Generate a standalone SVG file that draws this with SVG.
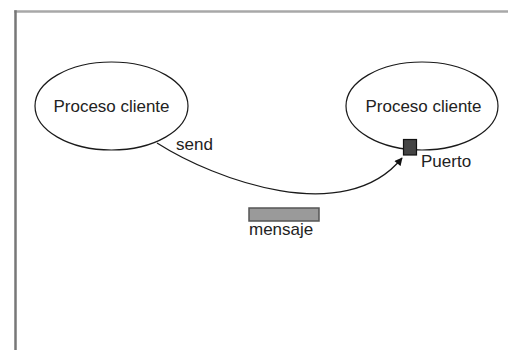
<svg xmlns="http://www.w3.org/2000/svg" width="508" height="350" viewBox="0 0 508 350">
  <style>
    .frame { fill: none; stroke-linecap: square; }
    .proc { fill: #ffffff; stroke: #1a1a1a; stroke-width: 1.2; }
    .label { font-family: "Liberation Sans", Arial, sans-serif; font-size: 17px; fill: #222222; }
    .center { text-anchor: middle; }
    .link { fill: none; stroke: #1a1a1a; stroke-width: 1.2; }
  </style>
  <defs>
    <marker id="arrowhead" viewBox="0 0 10 10" refX="9" refY="5" markerWidth="9" markerHeight="8" markerUnits="userSpaceOnUse" orient="auto">
      <path d="M0,0 L10,5 L0,10 Z" fill="#111111"/>
    </marker>
  </defs>

  <rect width="508" height="350" fill="#ffffff"/>

  <!-- window frame -->
  <line class="frame" x1="15.5" y1="11.5" x2="508" y2="11.5" stroke="#a8a8a8" stroke-width="2.5"/>
  <line class="frame" x1="15.5" y1="11.5" x2="15.5" y2="350" stroke="#777777" stroke-width="2.5"/>

  <!-- connectors -->
  <g id="connectors">
    <path class="link" d="M157,143 C215,180 345,228 402,158" marker-end="url(#arrowhead)"/>
    <text class="label" x="176" y="149.5">send</text>
  </g>

  <!-- sender process -->
  <g id="proceso-emisor">
    <ellipse class="proc" cx="111.5" cy="106" rx="76.5" ry="44"/>
    <text class="label center" x="111.5" y="112" textLength="116" lengthAdjust="spacingAndGlyphs">Proceso cliente</text>
  </g>

  <!-- receiver process -->
  <g id="proceso-receptor">
    <ellipse class="proc" cx="422" cy="106" rx="76" ry="44"/>
    <text class="label center" x="423.5" y="112" textLength="116" lengthAdjust="spacingAndGlyphs">Proceso cliente</text>
  </g>

  <!-- port on receiver -->
  <g id="puerto">
    <rect x="403.5" y="139.5" width="13" height="15.5" fill="#444444" stroke="#111111" stroke-width="1.2"/>
    <text class="label" x="421" y="166.5">Puerto</text>
  </g>

  <!-- message in transit -->
  <g id="mensaje">
    <rect x="249" y="208" width="70" height="13" fill="#9a9a9a" stroke="#555555" stroke-width="1.5"/>
    <text class="label" x="249" y="235">mensaje</text>
  </g>
</svg>
